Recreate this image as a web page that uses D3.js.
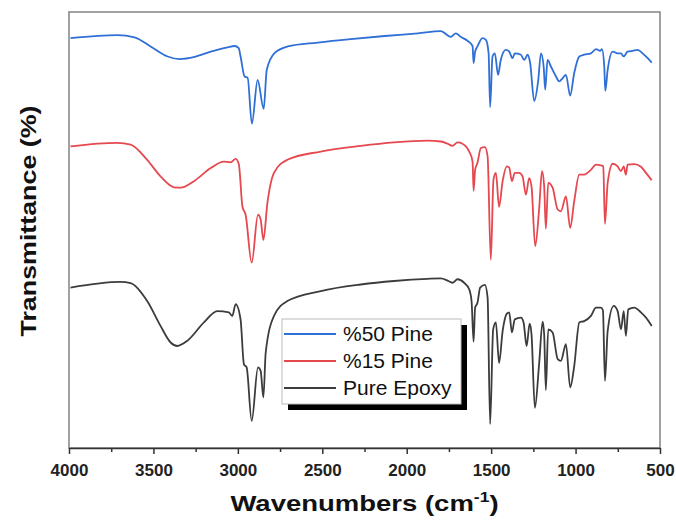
<!DOCTYPE html>
<html>
<head>
<meta charset="utf-8">
<script src="https://cdn.jsdelivr.net/npm/d3@7"></script>
<style>
  body { margin: 0; background: #fff; }
  svg { display: block; font-family: "Liberation Sans", Arial, sans-serif; }
</style>
</head>
<body>
<svg id="chart" width="676" height="522"></svg>
<script>
// wavenumber (cm-1), transmittance (a.u., curves stacked)
const pine50 = [[3991,94.0],[3713,94.7],[3612,94.2],[3517,92.1],[3416,89.8],[3345,89.2],[3256,89.7],[3161,90.9],[3061,91.9],[3019,92.2],[2995,91.7],[2984,89.8],[2960,85.2],[2942,84.9],[2917,74.4],[2883,84.4],[2847,77.8],[2829,86.7],[2782,90.6],[2705,92.1],[2527,93.0],[2332,93.8],[2130,94.5],[1934,95.1],[1798,95.6],[1739,94.3],[1709,95.1],[1680,94.3],[1640,93.4],[1610,92.2],[1604,88.3],[1595,90.9],[1581,92.1],[1551,94.0],[1531,93.6],[1515,90.5],[1506,78.2],[1492,89.8],[1478,90.5],[1459,85.6],[1443,89.0],[1413,91.3],[1393,90.9],[1373,89.4],[1360,90.5],[1324,90.2],[1304,89.0],[1284,90.2],[1269,88.3],[1245,79.6],[1221,84.4],[1205,90.5],[1189,87.5],[1180,82.2],[1166,89.0],[1146,87.5],[1116,85.2],[1097,84.1],[1077,84.8],[1057,85.6],[1032,80.8],[1008,86.0],[978,89.8],[949,90.2],[909,90.5],[879,91.5],[854,91.1],[844,91.5],[830,87.5],[824,81.9],[810,86.7],[780,90.9],[751,90.5],[731,90.5],[715,89.8],[692,90.9],[662,91.1],[632,91.3],[603,90.5],[573,89.4],[549,88.4]]

const pine15 = [[3991,69.2],[3714,70.0],[3635,69.6],[3537,66.1],[3458,62.3],[3379,59.8],[3339,59.7],[3260,61.2],[3161,64.2],[3083,65.7],[3043,65.5],[3013,66.3],[2994,65.0],[2973,55.4],[2954,53.5],[2918,42.5],[2881,53.5],[2865,52.4],[2849,47.7],[2825,56.2],[2786,63.1],[2707,66.1],[2509,68.0],[2272,69.3],[2075,70.1],[1877,70.5],[1798,70.3],[1758,69.8],[1729,69.3],[1699,70.1],[1670,69.8],[1630,68.0],[1610,65.7],[1604,59.0],[1595,63.8],[1581,65.4],[1561,68.8],[1537,69.0],[1521,66.9],[1502,43.2],[1486,61.6],[1472,63.1],[1453,55.3],[1432,61.2],[1407,64.6],[1393,64.3],[1377,61.2],[1360,63.1],[1334,63.1],[1314,62.3],[1294,58.1],[1275,61.9],[1261,60.0],[1239,46.3],[1216,54.7],[1199,63.5],[1186,60.0],[1176,50.3],[1162,60.8],[1136,59.7],[1106,54.7],[1087,54.3],[1057,57.7],[1032,50.5],[1008,56.6],[978,62.7],[949,62.7],[909,63.8],[879,65.0],[850,64.8],[836,64.6],[826,51.4],[810,60.8],[780,65.2],[751,64.6],[731,63.5],[715,64.6],[702,62.7],[692,65.0],[652,65.1],[613,64.5],[583,63.1],[549,61.4]]

const pureEpoxy = [[3991,36.8],[3695,38.1],[3635,37.8],[3537,33.7],[3458,28.0],[3398,24.2],[3359,23.4],[3299,24.6],[3201,28.8],[3122,31.4],[3053,31.1],[3033,30.3],[3013,33.0],[2984,29.5],[2964,19.2],[2948,18.5],[2918,6.2],[2881,18.5],[2865,17.7],[2849,11.6],[2835,21.9],[2786,30.3],[2707,33.7],[2509,36.0],[2272,37.5],[2075,38.3],[1877,38.8],[1798,38.9],[1758,38.4],[1729,37.9],[1699,38.7],[1660,37.9],[1630,36.4],[1616,33.7],[1604,24.4],[1595,32.2],[1581,33.3],[1565,36.8],[1537,37.4],[1521,34.5],[1506,5.5],[1488,27.2],[1472,28.8],[1453,19.5],[1432,26.8],[1407,30.8],[1393,31.1],[1377,26.5],[1360,29.5],[1324,29.9],[1308,28.8],[1290,23.4],[1272,28.5],[1261,26.1],[1241,9.2],[1216,19.2],[1195,29.0],[1186,26.1],[1176,13.3],[1162,27.2],[1136,26.5],[1106,20.4],[1087,20.0],[1057,23.8],[1032,13.9],[1008,18.8],[978,28.8],[949,29.1],[909,30.3],[879,32.2],[850,32.2],[838,31.6],[826,15.4],[810,26.8],[774,32.6],[751,31.4],[731,27.2],[715,31.4],[702,25.7],[688,31.8],[652,32.2],[613,31.1],[583,29.9],[549,28.0]]

const seriesNames = ["%50 Pine", "%15 Pine", "Pure Epoxy"]
const seriesColors = ["#2f6fd6", "#e5484f", "#3c3c3c"]
const majorTicks = [4000, 3500, 3000, 2500, 2000, 1500, 1000, 500]
const minorTicks = [3750, 3250, 2750, 2250, 1750, 1250, 750]

const series = [pine50, pine15, pureEpoxy]

const svg = d3.select("#chart")
const plotL = 69, plotR = 660, plotT = 12, plotB = 448

const x = d3.scaleLinear().domain([4000, 500]).range([plotL, plotR])
const y = d3.scaleLinear().domain([0, 100]).range([plotB, plotT])

// plot frame
svg.append("rect")
  .attr("x", plotL).attr("y", plotT)
  .attr("width", plotR - plotL).attr("height", plotB - plotT)
  .attr("fill", "none")
  .attr("stroke", "#8a8a8a")
  .attr("stroke-width", 1.6)

const line = d3.line()
  .x(d => x(d[0]))
  .y(d => y(d[1]))
  .curve(d3.curveMonotoneX)

svg.selectAll(".spectrum")
  .data(series)
  .enter()
  .append("path")
  .attr("class", "spectrum")
  .attr("d", line)
  .attr("fill", "none")
  .attr("stroke", (d, i) => seriesColors[i])
  .attr("stroke-width", 1.8)
  .attr("stroke-linejoin", "round")

// minor ticks first, then the labelled axis
svg.append("g")
  .attr("transform", "translate(0," + plotB + ")")
  .call(d3.axisBottom(x).tickValues(minorTicks).tickSize(4).tickFormat(""))
  .call(g => g.select(".domain").remove())
  .call(g => g.selectAll("line").attr("stroke", "#333").attr("stroke-width", 1.5))

const xAxis = svg.append("g")
  .attr("transform", "translate(0," + plotB + ")")
  .call(d3.axisBottom(x).tickValues(majorTicks).tickSize(6).tickSizeOuter(0).tickPadding(10).tickFormat(d3.format("d")))

xAxis.select(".domain").attr("stroke", "#333").attr("stroke-width", 1.6)
xAxis.selectAll("line").attr("stroke", "#333").attr("stroke-width", 1.5)
xAxis.selectAll("text")
  .attr("font-size", 17)
  .attr("font-weight", "bold")
  .attr("fill", "#222")
  .style("font-family", "'Liberation Sans', Arial, sans-serif")

// axis titles (the original lettering is a bit wide, so stretch along the text)
const xTitle = svg.append("text")
  .attr("transform", "translate(" + (plotL + plotR) / 2 + ",511) scale(1.25,1)")
  .attr("text-anchor", "middle")
  .attr("font-size", 22)
  .attr("font-weight", "bold")
  .attr("fill", "#111")
xTitle.append("tspan").text("Wavenumbers (cm")
xTitle.append("tspan").attr("font-size", 14).attr("dy", -9).text("-1")
xTitle.append("tspan").attr("dy", 9).text(")")

svg.append("text")
  .attr("transform", "translate(36,221) rotate(-90) scale(1.22,1)")
  .attr("text-anchor", "middle")
  .attr("font-size", 22)
  .attr("font-weight", "bold")
  .attr("fill", "#111")
  .text("Transmittance (%)")

// legend with drop shadow
const legend = svg.append("g").attr("transform", "translate(282,319)")
const lw = 179, lh = 85
legend.append("rect")
  .attr("x", 6).attr("y", 6).attr("width", lw).attr("height", lh)
  .attr("fill", "#000")
legend.append("rect")
  .attr("width", lw).attr("height", lh)
  .attr("fill", "#fff")
  .attr("stroke", "#bbb")
  .attr("stroke-width", 1)

const rows = legend.selectAll(".row")
  .data(seriesNames)
  .enter()
  .append("g")
  .attr("class", "row")
  .attr("transform", (d, i) => "translate(0," + (15 + i * 27) + ")")

rows.append("line")
  .attr("x1", 2).attr("x2", 54)
  .attr("stroke", (d, i) => seriesColors[i])
  .attr("stroke-width", 2)

rows.append("text")
  .attr("x", 61).attr("y", 7)
  .attr("font-size", 21)
  .attr("fill", "#111")
  .text(d => d)
</script>
</body>
</html>
